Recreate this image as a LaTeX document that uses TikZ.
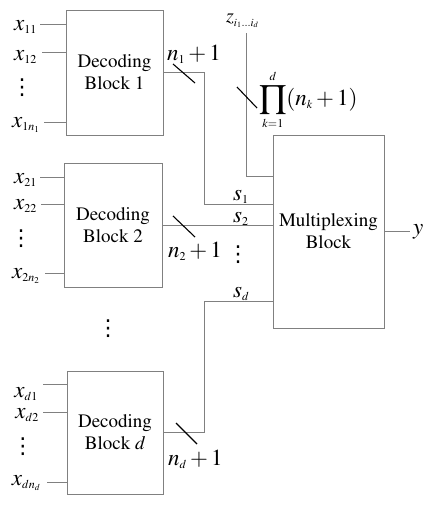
\documentclass[tikz,border=0pt]{standalone}
\usepackage[no-math]{fontspec}
\newfontfamily\dejavu{DejaVu Sans}
\usepackage[T1]{fontenc}
\usepackage{mathptmx}
\DeclareMathSizes{23}{23}{12}{9}
\DeclareMathSizes{20}{20}{11}{8}
\definecolor{wirec}{RGB}{128,128,128}
\newcommand\mydots{{\dejavu ⋮}}
\begin{document}
\begin{tikzpicture}[x=1pt,y=-1pt,
  wire/.style={draw=wirec,line width=0.8pt},
  blk/.style={draw=wirec,line width=0.8pt,rectangle,inner sep=0,align=center,font=\fontsize{19}{22}\selectfont},
  mlab/.style={inner sep=0,font=\fontsize{23}{27}\selectfont},
  zlab/.style={inner sep=0,font=\fontsize{20}{24}\selectfont},
  slash/.style={draw=black,line width=1.1pt},
  dots/.style={inner sep=0,font=\fontsize{22}{24}\selectfont}]
\useasboundingbox (0,0) rectangle (437,506);
% blocks
\node[blk,minimum width=97pt,minimum height=125pt] (dec1) at (114.5,72.5) {Decoding\\Block 1};
\node[blk,minimum width=98pt,minimum height=124pt] (dec2) at (113,225) {Decoding\\Block 2};
\node[blk,minimum width=96pt,minimum height=123pt] (decd) at (115,432.5) {Decoding\\Block \textit{d}};
\node[blk,minimum width=111pt,minimum height=193pt] (mux) at (328.5,231.5) {Multiplexing\\Block};
% input coordinates
\coordinate (i11) at (40,24);  \coordinate (i12) at (42,52);  \coordinate (i1n) at (44,122);
\coordinate (i21) at (40,177); \coordinate (i22) at (41,204); \coordinate (i2n) at (45,273);
\coordinate (id1) at (43,384); \coordinate (id2) at (43,412); \coordinate (idn) at (47,482);
% input labels
\node[mlab,anchor=base east] (l11) at (37,30) {$x_{11}$};
\node[mlab,anchor=base east] (l12) at (37,60) {$x_{12}$};
\node[mlab,anchor=base east] (l1n) at (40,127) {$x_{1n_1}$};
\node[mlab,anchor=base east] (l21) at (37,183) {$x_{21}$};
\node[mlab,anchor=base east] (l22) at (37,209) {$x_{22}$};
\node[mlab,anchor=base east] (l2n) at (40,278) {$x_{2n_2}$};
\node[mlab,anchor=base east] (ld1) at (38,397) {$x_{d1}$};
\node[mlab,anchor=base east] (ld2) at (39,418) {$x_{d2}$};
\node[mlab,anchor=base east] (ldn) at (41,485) {$x_{dn_d}$};
% dots
\node[dots] (v1) at (22,88) {\mydots};
\node[dots] (v2) at (21,239) {\mydots};
\node[dots] (v3) at (23,447) {\mydots};
\node[dots] (vm) at (108,329) {\mydots};
\node[dots] (vs) at (238,255) {\mydots};
% input wires
\foreach \c/\b in {i11/dec1,i12/dec1,i1n/dec1,i21/dec2,i22/dec2,i2n/dec2,id1/decd,id2/decd,idn/decd}
  \draw[wire] (\c) -- (\c -| \b.west);
% output wires
\coordinate (c1) at (204,204);
\draw[wire] (dec1.east) -| (c1) -- (c1 -| mux.west);
\draw[wire] (dec2.east) -- (dec2.east -| mux.west);
\coordinate (cd) at (204,301);
\draw[wire] (decd.east) -| (cd) -- (cd -| mux.west);
\coordinate (zt) at (246,33);
\coordinate (zc) at (246,176);
\draw[wire] (zt) -- (zc) -- (zc -| mux.west);
\coordinate (yo) at (410,231.5);
\draw[wire] (mux.east) -- (yo);
\node[mlab,anchor=base west] (ylab) at (413,234) {$y$};
% slashes
\coordinate (m1) at (184,73.5);
\coordinate (m2) at (184,226.5);
\coordinate (md) at (186.5,433.5);
\coordinate (mp) at (247,97.5);
\draw[slash] ([shift={(-11,-9.5)}]m1) -- ([shift={(11,9.5)}]m1);
\draw[slash] ([shift={(-11,-10.5)}]m2) -- ([shift={(11,10.5)}]m2);
\draw[slash] ([shift={(-10.5,-10.5)}]md) -- ([shift={(10.5,10.5)}]md);
\draw[slash] ([shift={(-10,-10.5)}]mp) -- ([shift={(10,10.5)}]mp);
% labels
\node[mlab,anchor=base west] (n1) at (167,60) {$n_1+1$};
\node[mlab,anchor=base west] (n2) at (168,257) {$n_2+1$};
\node[mlab,anchor=base west] (nd) at (168,465) {$n_d+1$};
\node[mlab,anchor=base west] (s1) at (233,200) {$s_1$};
\node[mlab,anchor=base west] (s2) at (233,222) {$s_2$};
\node[mlab,anchor=base west] (sd) at (233,297) {$s_d$};
\node[zlab,anchor=base west] (zl) at (226,23) {$z_{i_1\ldots i_d}$};
\node[mlab,anchor=base west] (pl) at (259,105) {$\displaystyle\prod_{k=1}^{d}(n_k+1)$};
\end{tikzpicture}
\end{document}
